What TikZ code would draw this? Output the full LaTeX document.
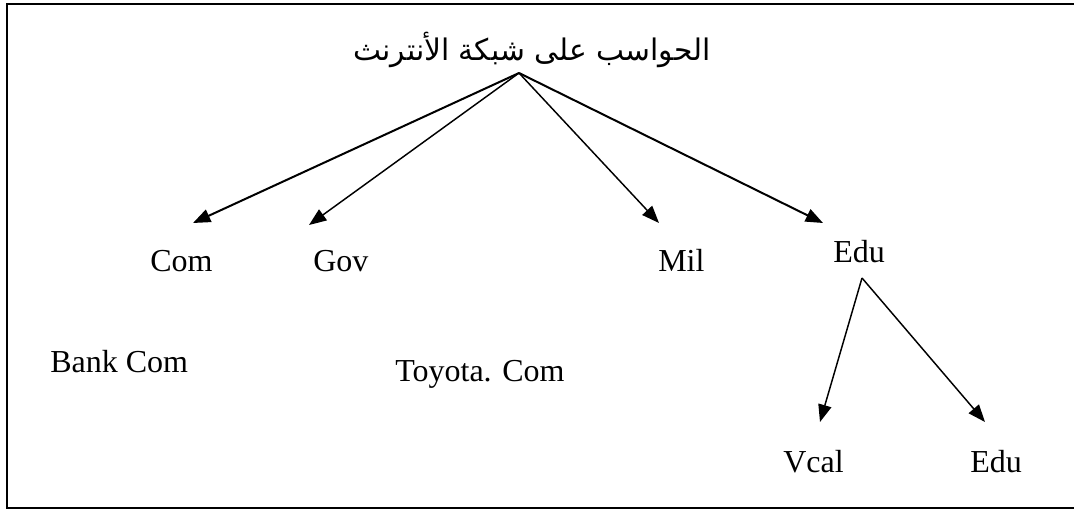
\documentclass[tikz,border=0pt]{standalone}
\usepackage{fontspec}
\setmainfont{Liberation Serif}
\newfontfamily\arabicfont[Script=Arabic]{DejaVu Sans}
\TeXXeTstate=1
\usetikzlibrary{arrows.meta}
\begin{document}
\begin{tikzpicture}[x=0.75pt,y=-0.75pt,
  lbl/.style={inner sep=0pt,anchor=base west,font=\fontsize{24}{28}\selectfont},
  heading/.style={inner sep=0pt,font=\arabicfont\fontsize{22.3}{26}\selectfont},
  link/.style={line width=1.5pt,-{Triangle[length=13pt,width=10pt]}},
  thinlink/.style={line width=1.1pt,-{Triangle[length=13pt,width=10pt]}}]
\clip (0,0) rectangle (1074,509);
% frame, open on the right
\draw[line width=1.3pt] (1090,4) -- (7,4) -- (7,508) -- (1090,508);

% title and labels
\node[heading] (title) at (532,50) {\beginR الحواسب على شبكة الأنترنث\endR};
\node[lbl] (com) at (150,272) {Com};
\node[lbl] (gov) at (313,272) {Gov};
\node[lbl] (mil) at (658,272) {Mil};
\node[lbl] (edu) at (833,263) {Edu};
\node[lbl] (bank) at (50,373) {Bank Com};
\node[lbl] (toyota) at (395,382) {Toyota. Com};
\node[lbl] (vcal) at (783,472) {Vcal};
\node[lbl] (edusub) at (970,472) {Edu};

% branch points and arrow tips
\coordinate (hub) at (519,73);
\coordinate (comtip) at (193,223);
\coordinate (govtip) at (309,225);
\coordinate (miltip) at (659,223);
\coordinate (edutip) at (823,223);
\coordinate (eduhub) at (862,278);
\coordinate (vcaltip) at (820,422);
\coordinate (edusubtip) at (985,422);

\draw[link] (hub) -- (comtip);
\draw[thinlink] (hub) -- (govtip);
\draw[thinlink] (hub) -- (miltip);
\draw[link] (hub) -- (edutip);
\draw[thinlink] (eduhub) -- (vcaltip);
\draw[thinlink] (eduhub) -- (edusubtip);
\end{tikzpicture}
\end{document}
